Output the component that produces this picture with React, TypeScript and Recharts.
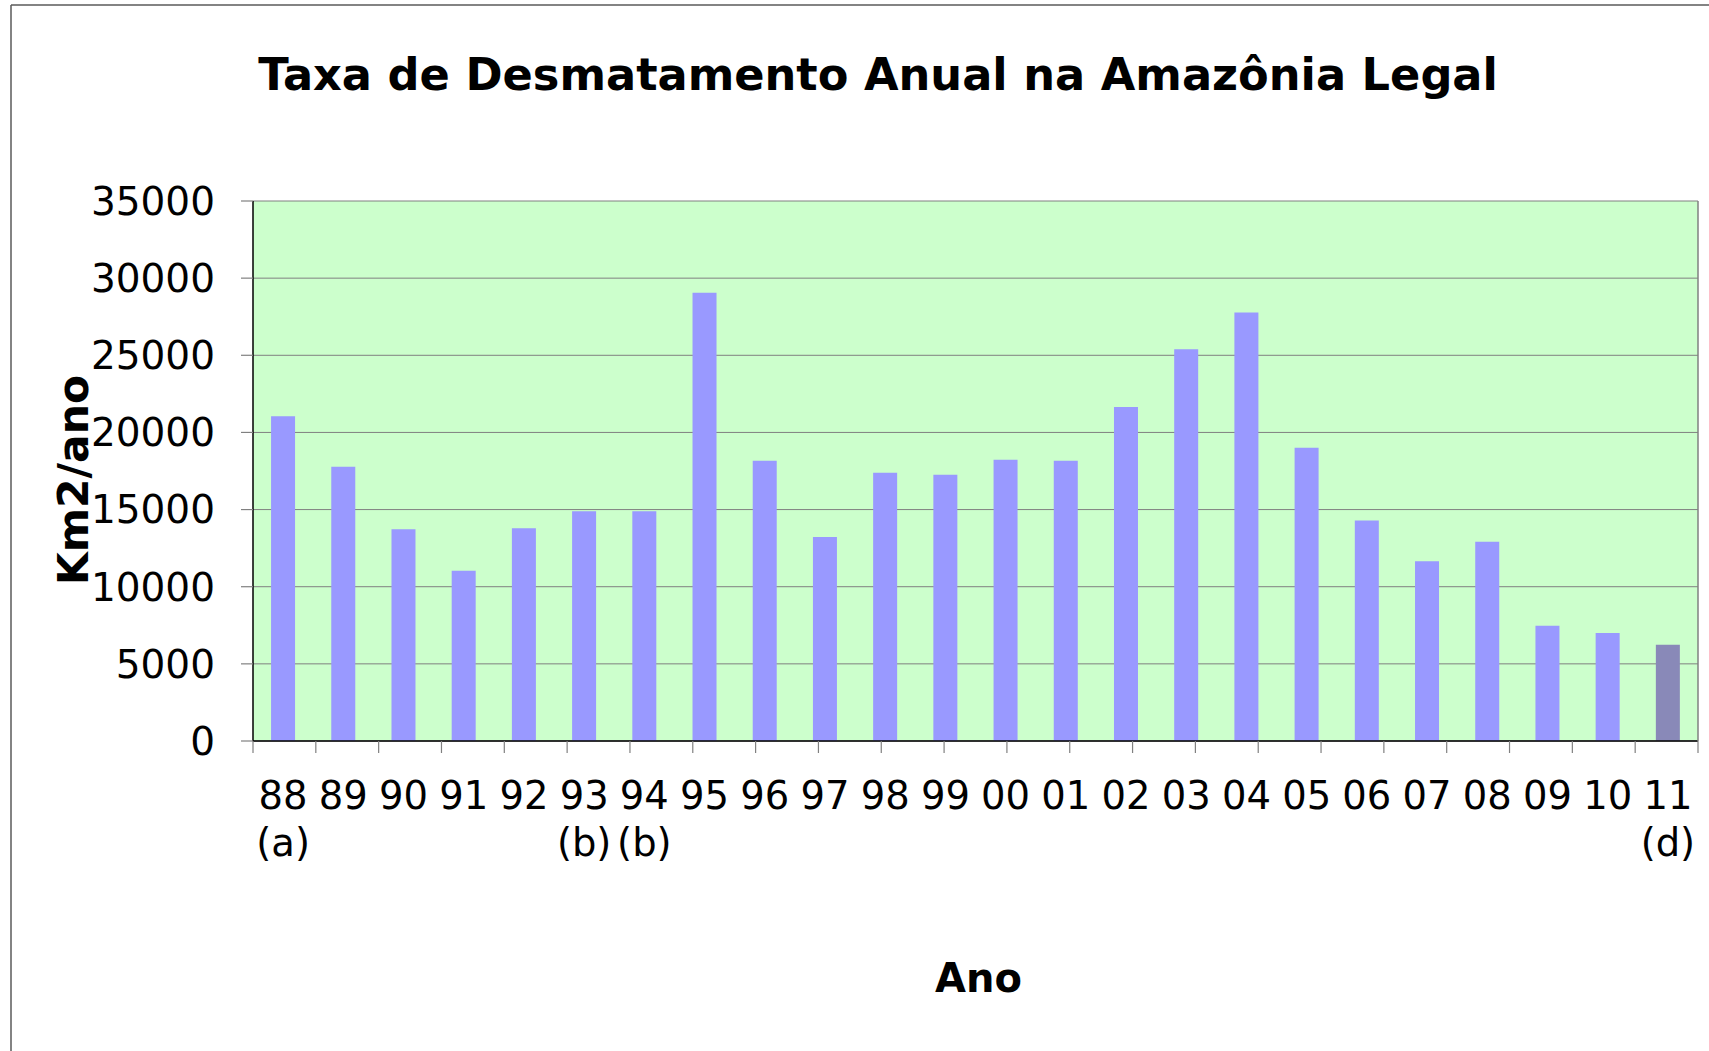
import React from 'react';
import { BarChart, Bar, XAxis, YAxis, CartesianGrid, Cell, Label } from 'recharts';

const years = ['88', '89', '90', '91', '92', '93', '94', '95', '96', '97', '98', '99', '00', '01', '02', '03', '04', '05', '06', '07', '08', '09', '10', '11'];
const notes = ['(a)', '', '', '', '', '(b)', '(b)', '', '', '', '', '', '', '', '', '', '', '', '', '', '', '', '', '(d)'];
const deforestation = [21050, 17770, 13730, 11030, 13786, 14896, 14896, 29059, 18161, 13227, 17383, 17259, 18226, 18165, 21651, 25396, 27772, 19014, 14286, 11651, 12911, 7464, 7000, 6238];
const yTicks = [0, 5000, 10000, 15000, 20000, 25000, 30000, 35000];
const edgeTicks = [0, 1, 2, 3, 4, 5, 6, 7, 8, 9, 10, 11, 12, 13, 14, 15, 16, 17, 18, 19, 20, 21, 22, 23, 24];

const title = 'Taxa de Desmatamento Anual na Amazônia Legal';
const yLabel = 'Km2/ano';
const xLabel = 'Ano';

const data = years.map((y, i) => ({ year: y, note: notes[i], value: deforestation[i] }));

const FONT = '"DejaVu Sans", Verdana, sans-serif';
const EDGES = 0;
const CAT = 1;

const XTick = (props: any) => {
  const { x, y, payload } = props;
  const note = notes[payload.index] || '';
  return (
    <g>
      <text x={x} y={y + 67} textAnchor="middle" fontFamily={FONT} fontSize={38.5} fill="#000">
        {payload.value}
      </text>
      {note ? (
        <text x={x} y={y + 114} textAnchor="middle" fontFamily={FONT} fontSize={38.5} fill="#000">
          {note}
        </text>
      ) : null}
    </g>
  );
};

const EmptyTick = () => <g />;

const YLabelContent = (props: any) => {
  const { viewBox } = props;
  const cx = viewBox.x + 88;
  const cy = viewBox.y + viewBox.height / 2 + 9;
  return (
    <text x={cx} y={cy} transform={`rotate(-90 ${cx} ${cy})`} textAnchor="middle" fontFamily={FONT} fontWeight="bold" fontSize={42.5} fill="#000">
      {yLabel}
    </text>
  );
};

const XLabelContent = (props: any) => {
  const { viewBox } = props;
  const cx = viewBox.x + viewBox.width / 2 + 3;
  const cy = viewBox.y + 250;
  return (
    <text x={cx} y={cy} textAnchor="middle" fontFamily={FONT} fontWeight="bold" fontSize={40} fill="#000">
      {xLabel}
    </text>
  );
};

export default function App() {
  const last = data.length - 1;
  return (
    <div style={{ position: 'absolute', left: 0, top: 0, width: 1709, height: 1051, background: '#fff' }}>
      <BarChart
        width={1709}
        height={1051}
        data={data}
        margin={{ top: 201, right: 10, left: 0, bottom: 0 }}
        barCategoryGap="30%"
      >
        <CartesianGrid
          xAxisId={CAT}
          yAxisId="left"
          vertical={false}
          stroke="#808080"
          strokeWidth={1}
          fill="#CCFFCC"
          fillOpacity={1}
        />
        <Bar xAxisId={CAT} yAxisId="left" dataKey="value" isAnimationActive={false} fill="#9999FF">
          {data.map((d, i) => (
            <Cell key={d.year} fill={i === last ? '#8989B8' : '#9999FF'} />
          ))}
        </Bar>
        <XAxis
          xAxisId={EDGES}
          type="number"
          domain={[0, 24]}
          ticks={edgeTicks}
          interval={0}
          allowDataOverflow
          height={1}
          tick={<EmptyTick />}
          tickSize={12}
          tickLine={{ stroke: '#808080', strokeWidth: 1.2 }}
          axisLine={{ stroke: '#000', strokeWidth: 1.5 }}
        />
        <XAxis
          xAxisId={CAT}
          dataKey="year"
          height={309}
          interval={0}
          tickLine={false}
          axisLine={false}
          tickSize={0}
          tickMargin={0}
          tick={<XTick />}
        >
          <Label content={<XLabelContent />} />
        </XAxis>
        <YAxis
          yAxisId="left"
          width={253}
          domain={[0, 35000]}
          ticks={yTicks}
          interval={0}
          tickSize={12}
          tickMargin={26}
          tickLine={{ stroke: '#808080', strokeWidth: 1.2 }}
          axisLine={{ stroke: '#000', strokeWidth: 1.5 }}
          tick={{ fontFamily: FONT, fontSize: 39, fill: '#000' }}
        >
          <Label content={<YLabelContent />} />
        </YAxis>
        <YAxis
          yAxisId="right"
          orientation="right"
          width={1}
          domain={[0, 35000]}
          tick={false}
          tickLine={false}
          axisLine={{ stroke: '#808080', strokeWidth: 1.5 }}
        />
      </BarChart>
      <svg width={1709} height={1051} style={{ position: 'absolute', left: 0, top: 0, pointerEvents: 'none' }}>
        <line x1={11} y1={5} x2={1709} y2={5} stroke="#5a5a5a" strokeWidth={1.5} />
        <line x1={11} y1={5} x2={11} y2={1051} stroke="#5a5a5a" strokeWidth={1.5} />
        <text x={878} y={90} textAnchor="middle" fontFamily={FONT} fontWeight="bold" fontSize={44.7} fill="#000">
          {title}
        </text>
      </svg>
    </div>
  );
}
